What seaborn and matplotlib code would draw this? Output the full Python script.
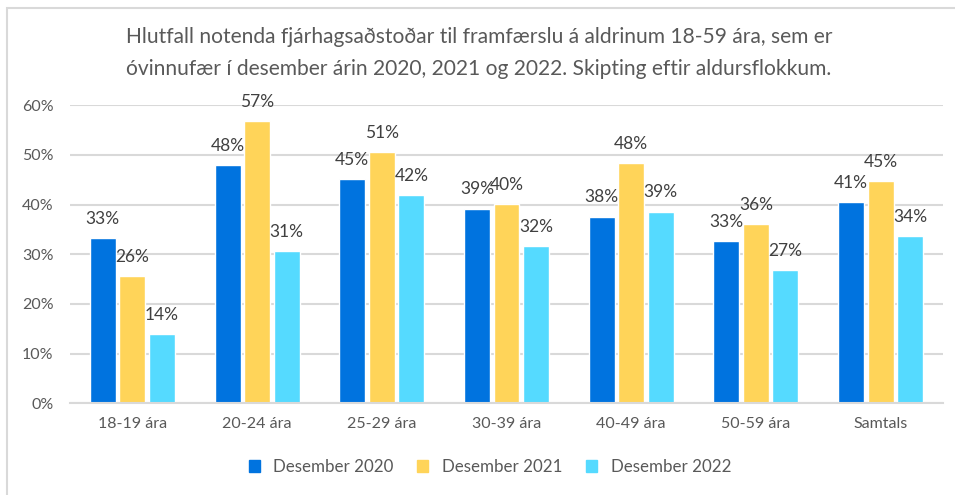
import numpy as np
import matplotlib
matplotlib.use('Agg')
import matplotlib.pyplot as plt
import matplotlib.patches as mpatches
import pandas as pd
import seaborn as sns

categories = ['18-19 ára', '20-24 ára', '25-29 ára', '30-39 ára',
              '40-49 ára', '50-59 ára', 'Samtals']
series_names = ['Desember 2020', 'Desember 2021', 'Desember 2022']
d2020 = [33.3, 47.9, 45.2, 39.2, 37.6, 32.7, 40.6]
d2021 = [25.6, 56.8, 50.6, 40.2, 48.3, 36.1, 44.8]
d2022 = [13.9, 30.6, 41.9, 31.6, 38.6, 26.9, 33.6]
colors = ['#0073DF', '#FFD459', '#55DAFF']
title = ('Hlutfall notenda fjárhagsaðstoðar til framfærslu á aldrinum 18-59 ára, sem er\n'
         'óvinnufær í desember árin 2020, 2021 og 2022. Skipting eftir aldursflokkum.')

df = pd.DataFrame({
    'flokkur': categories * 3,
    'hlutfall': d2020 + d2021 + d2022,
    'ar': sum([[s] * len(categories) for s in series_names], []),
})

sns.set_style('white')
plt.rcParams['font.family'] = ['Lato', 'DejaVu Sans']

text_col = '#595959'
grid_col = '#D9D9D9'

fig = plt.figure(figsize=(9.55, 4.95), dpi=100)
ax = fig.add_axes([70 / 955, 1 - 403.3 / 495, 873 / 955, 298 / 495])

sns.barplot(data=df, x='flokkur', y='hlutfall', hue='ar', palette=colors,
            width=0.71, gap=0.12, ax=ax, legend=False, saturation=1)

for c in ax.containers:
    ax.bar_label(c, labels=['{:.0f}%'.format(v) for v in c.datavalues],
                 padding=8, fontsize=12.5, color='#404040')

ax.set_ylim(0, 60)
ax.set_yticks(np.arange(0, 61, 10))
ax.set_yticklabels(['{}%'.format(t) for t in range(0, 61, 10)])
ax.yaxis.grid(True, color=grid_col, linewidth=1.5)
ax.set_axisbelow(True)
for s in ['top', 'right', 'left']:
    ax.spines[s].set_visible(False)
ax.spines['bottom'].set_color(grid_col)
ax.spines['bottom'].set_linewidth(1.5)
ax.tick_params(axis='both', length=0, labelsize=11.5, labelcolor=text_col)
ax.tick_params(axis='y', pad=12)
ax.tick_params(axis='x', pad=10)
ax.set_xlabel('')
ax.set_ylabel('')

fig.text(479 / 955, 1 - 53 / 495, title, ha='center', va='center', fontsize=15.1,
         color=text_col, linespacing=1.7)

handles = [mpatches.Patch(color=col, label=n) for col, n in zip(colors, series_names)]
fig.legend(handles=handles, loc='center', bbox_to_anchor=(490 / 955, 1 - 467 / 495),
           ncol=3, frameon=False, fontsize=12.2, labelcolor=text_col,
           handlelength=0.65, handleheight=0.65, handletextpad=0.8, columnspacing=1.4)

fig.patches.append(mpatches.Rectangle((7 / 955, -0.1), 1.2, 1 - 8 / 495 + 0.1,
                                      transform=fig.transFigure, fill=False,
                                      edgecolor=grid_col, linewidth=1.5))

fig.savefig('out.png', dpi=100)
